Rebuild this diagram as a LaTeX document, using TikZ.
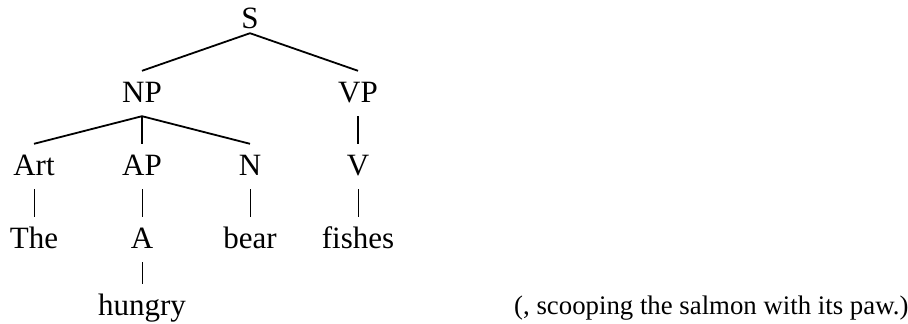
\documentclass[tikz,border=0pt]{standalone}
\usepackage{fontspec}
\setmainfont{Liberation Serif}
\usepackage{tikz}

\begin{document}
\begin{tikzpicture}[
    x=1pt, y=-1pt,
    cat/.style={anchor=base, inner sep=0pt, font=\fontsize{31}{31}\selectfont,
                text height=31pt, text depth=14pt},
    branch/.style={draw, line width=1.8pt},
    leaf/.style={draw, line width=1pt}
]
\useasboundingbox (0,0) rectangle (908,324);

% Nodes :
\node[cat, text depth=5pt] (S) at (250, 28) {S};
\node[cat] (NP) at (142, 102) {NP};
\node[cat] (VP) at (358, 102) {VP};

\node[cat] (Art) at (34, 175) {Art};
\node[cat] (AP) at (142, 175) {AP};
\node[cat] (N) at (250, 175) {N};
\node[cat] (V) at (358, 175) {V};

\node[cat] (The) at (34, 248) {The};
\node[cat] (A) at (142, 248) {A};
\node[cat] (bear) at (250, 248) {bear};
\node[cat] (fishes) at (358, 248) {fishes};

\node[cat] (hungry) at (142, 315) {hungry};
\node[anchor=base west, inner sep=0pt, font=\fontsize{26.8}{26.8}\selectfont]
    (rest) at (514, 314) {(, scooping the salmon with its paw.)};

% Branches :
\draw[branch] (S.south) -- (NP.north);
\draw[branch] (S.south) -- (VP.north);
\draw[branch] (NP.south) -- (Art.north);
\draw[branch] (NP.south) -- (AP.north);
\draw[branch] (NP.south) -- (N.north);
\draw[branch] (VP.south) -- (V.north);

\draw[leaf] (Art.south) -- (The.north);
\draw[leaf] (AP.south) -- (A.north);
\draw[leaf] (N.south) -- (bear.north);
\draw[leaf] (V.south) -- (fishes.north);
\draw[leaf] (A.south) -- (hungry.north);

\end{tikzpicture}
\end{document}
